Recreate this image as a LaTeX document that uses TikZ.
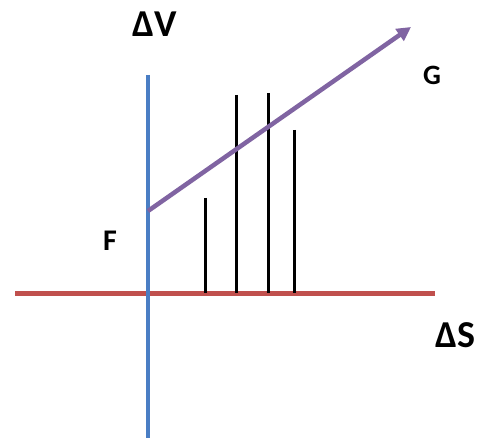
\documentclass[tikz,border=0pt]{standalone}
\usepackage{fontspec}
\setmainfont{Carlito}
\usetikzlibrary{arrows.meta}
\definecolor{axblue}{HTML}{4A7EC4}
\definecolor{axred}{HTML}{C0504D}
\definecolor{arrpurple}{HTML}{8064A2}
\tikzset{
  lbl/.style={font=\bfseries\fontsize{#1}{#1}\selectfont, inner sep=0pt, anchor=base},
  bar/.style={line width=3pt, black},
}
\begin{document}
\begin{tikzpicture}[x=1pt,y=-1pt]
\useasboundingbox (0,0) rectangle (481,438);
% axes
\coordinate (vtop) at (148,75);
\coordinate (vbot) at (148,438);
\coordinate (hl) at (15,293);
\coordinate (hr) at (435,293);
\draw[axred, line width=5pt] (hl) -- (hr);
% bars
\foreach \n/\x/\t in {1/205/198, 2/236/95, 3/268/93, 4/294/130}{
  \coordinate (b\n t) at (\x,\t);
  \coordinate (b\n b) at (\x,293);
  \draw[bar] (b\n t) -- (b\n b);
}
\draw[axblue, line width=4.5pt] (vtop) -- (vbot);
% arrow
\coordinate (F0) at (148,211);
\coordinate (G0) at (411,27);
\draw[arrpurple, line width=4.5pt, -{Triangle[length=14pt,width=14pt]}] (F0) -- (G0);
% labels
\node[lbl=38] (dv) at (155,37) {ΔV};
\node[lbl=28] (g) at (432,85) {G};
\node[lbl=30] (f) at (110,250) {F};
\node[lbl=38] (ds) at (455,347) {ΔS};
\end{tikzpicture}
\end{document}
